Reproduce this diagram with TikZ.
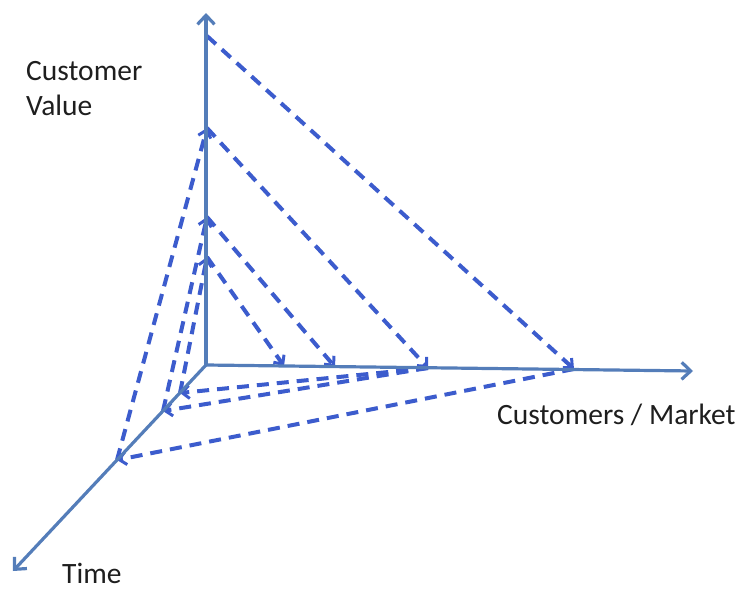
\documentclass[tikz,border=0pt]{standalone}
\usepackage{fontspec}
\setmainfont{Carlito}
\usetikzlibrary{arrows.meta}
\definecolor{axisblue}{RGB}{84,125,185}
\definecolor{dashblue}{RGB}{60,92,205}
\definecolor{lbltext}{RGB}{30,30,30}
\begin{document}
\begin{tikzpicture}[x=1pt,y=-1pt,
  axis/.style={draw=axisblue,line width=3.2pt,-{Straight Barb[length=9pt,width=17pt,line width=3.2pt]}},
  link/.style={draw=dashblue,line width=4pt,dash pattern=on 12pt off 8pt,-{Straight Barb[length=7pt,width=13pt,line width=3pt]}},
  lbl/.style={font=\fontsize{29.5}{35}\selectfont,text=lbltext,inner sep=0pt}]
\useasboundingbox (0,0) rectangle (742,589);
% axes
\coordinate (o) at (206,365);
\coordinate (vtop) at (206,13);
\coordinate (mend) at (693,371);
\coordinate (tend) at (13,571);
% points on the axes
\coordinate (v1) at (207,36);
\coordinate (v2) at (207,128);
\coordinate (v3) at (207,217);
\coordinate (v4) at (207,257);
\coordinate (m1) at (284,366);
\coordinate (m2) at (335,367);
\coordinate (m3) at (428,368);
\coordinate (m4) at (574,369);
\coordinate (t1) at (180,393);
\coordinate (t2) at (163,411);
\coordinate (t3) at (117,460);
% dashed links
\draw[link] (v1) -- (m4);
\draw[link] (m4) -- (t3);
\draw[link] (t3) -- (v2);
\draw[link] (v2) -- (m3);
\draw[link] (m3) -- (t2);
\draw[link] (t2) -- (v3);
\draw[link] (v3) -- (m2);
\draw[link] (m3) -- (t1);
\draw[link] (t1) -- (v4);
\draw[link] (v4) -- (m1);
% axes on top
\draw[axis] (o) -- (vtop);
\draw[axis] (o) -- (mend);
\draw[axis] (o) -- (tend);
% labels
\node[lbl,anchor=base west] (lv1) at (26,80) {Customer};
\node[lbl,anchor=base west] (lv2) at (26,115) {Value};
\node[lbl,anchor=base west] (lm) at (497,424) {Customers / Market};
\node[lbl,anchor=base west] (lt) at (62,583) {Time};
\end{tikzpicture}
\end{document}
